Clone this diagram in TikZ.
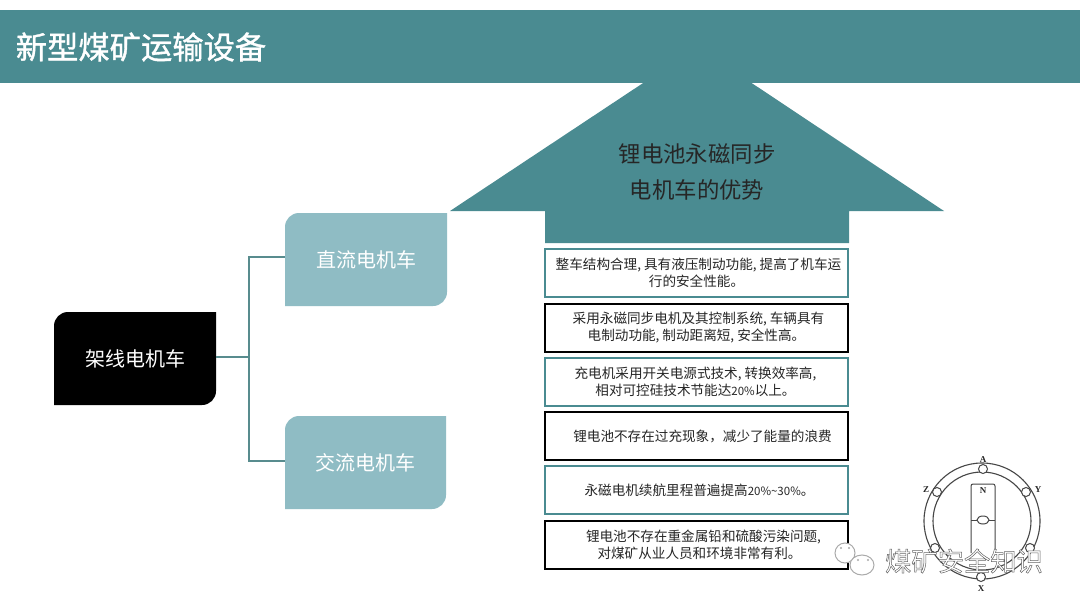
\documentclass[tikz,border=0pt]{standalone}
\usepackage{fontspec}
\usepackage{xcolor}
\usepackage{tikz}
\setmainfont{Noto Sans CJK SC}
\newfontfamily\titlefont[FakeBold=1.2]{Noto Sans CJK SC}
\newfontfamily\motorfont{Liberation Serif}
\definecolor{hlteal}{RGB}{74,139,145}
\definecolor{hlline}{RGB}{88,140,142}
\definecolor{hllight}{RGB}{143,188,196}
\definecolor{hlink}{RGB}{38,38,38}
\definecolor{hlmotor}{RGB}{70,70,70}
\definecolor{hlmark}{RGB}{170,170,170}
\newcommand{\cm}{,\hspace{3pt}}
\newcommand{\nar}[1]{{\fontsize{11.5}{17}\selectfont #1}}
\tikzset{
	bignode/.style={text=white,font=\fontsize{20}{24}\selectfont},
	infobox/.style={draw=hlteal,line width=1.5,fill=white,minimum width=303,minimum height=48,inner sep=0,align=center,text=hlink,font=\fontsize{13.6}{17}\selectfont,execute at begin node=\vspace*{8pt}},
	darkbox/.style={infobox,draw=black,line width=2},
	slot/.style={draw=hlmotor,fill=white,line width=1,circle,minimum size=9,inner sep=0},
	motorlabel/.style={text=hlink,font=\fontsize{9}{10}\motorfont\bfseries\selectfont,inner sep=0},
}

\begin{document}
\begin{tikzpicture}[x=1pt,y=-1pt]
	\useasboundingbox (0,0) rectangle (1080,608);
	\fill[white] (0,0) rectangle (1080,608);

	\coordinate (P) at (450,211);
	\coordinate (Q) at (944,211);
	\coordinate (R) at (697.5,47);

	\fill[hlteal] (P) -- (R) -- (Q) -- (849,211) -- (849,243) -- (545,243) -- (545,211) -- cycle;
	\fill[hlteal] (0,10) rectangle (1080,83);
	\node (title) at (141,47) [text=white,font=\fontsize{31.3}{36}\titlefont] {新型煤矿运输设备};
	\node (arrowtext) at (697,172) [align=center,text=hlink,font=\fontsize{22.4}{36}\selectfont] {锂电池永磁同步\\电机车的优势};

	\fill[black] (54,405) [rounded corners=14] -- (54,312) [sharp corners] -- (216,312) [rounded corners=14] -- (216,405) [sharp corners] -- cycle;
	\fill[hllight] (285,306) [rounded corners=14] -- (285,213) [sharp corners] -- (447,213) [rounded corners=14] -- (447,306) [sharp corners] -- cycle;
	\fill[hllight] (285,509) [rounded corners=14] -- (285,416) [sharp corners] -- (446,416) [rounded corners=14] -- (446,509) [sharp corners] -- cycle;
	\node (root) at (135,358.5) [bignode,minimum width=162,minimum height=93] {架线电机车};
	\node (dc) at (366,259.5) [bignode,minimum width=162,minimum height=93] {直流电机车};
	\node (ac) at (365.5,462.5) [bignode,minimum width=161,minimum height=93] {交流电机车};

	\coordinate (trunk) at (249,357);
	\coordinate (dcin) at (285,257);
	\coordinate (acin) at (285,461);
	\draw[hlline,line width=2.5] (root.east |- trunk) -- (trunk);
	\draw[hlline,line width=2.5] (dcin) -| (trunk) |- (acin);

	\node (boxa) at (696.5,273) [infobox] {\hspace*{4pt}整车结构合理\cm 具有液压制动功能\cm 提高了机车运\\行的安全性能。};
	\node (boxb) at (696.5,328) [darkbox] {\hspace*{4pt}采用永磁同步电机及其控制系统\cm 车辆具有\\电制动功能\cm 制动距离短\cm 安全性高。};
	\node (boxc) at (696.5,382) [infobox] {充电机采用开关电源式技术\cm 转换效率高,\hspace*{2pt}\\相对可控硅技术节能达\nar{20\%}以上。\hspace*{2pt}};
	\node (boxd) at (696.5,436) [darkbox] {\hspace*{12pt}锂电池不存在过充现象，减少了能量的浪费};
	\node (boxe) at (696.5,490) [infobox] {\hspace*{6pt}永磁电机续航里程普遍提高\nar{20\%\textasciitilde30\%}。};
	\node (boxf) at (696.5,545) [darkbox] {\hspace*{14pt}锂电池不存在重金属铅和硫酸污染问题,\\\hspace*{6pt}对煤矿从业人员和环境非常有利。};

	\coordinate (O) at (982,521);
	\draw[hlmotor,line width=1.1] (O) circle (58);
	\draw[hlmotor,line width=1.1] (O) circle (49);
	\draw[hlmotor,line width=1] (971,553) -- (971,488) [rounded corners=2] -- (971,484) -- (995,484) [sharp corners] -- (995,553);
	\draw[hlmotor,line width=0.7] (971,520) -- (995,520);
	\draw[hlmotor,fill=white,line width=1] (983,520) ellipse (6 and 4);
	\node (slota) at (983,469) [slot] {};
	\node (slotx) at (981,577) [slot] {};
	\node (slotz) at (937,492) [slot] {};
	\node (sloty) at (1026,492) [slot] {};
	\node (slotb) at (935,548) [slot] {};
	\node (slotc) at (1030,548) [slot] {};
	\node at (983,460) [motorlabel] {A};
	\node at (981,589) [motorlabel] {X};
	\node at (926,490) [motorlabel] {Z};
	\node at (1038,490) [motorlabel] {Y};
	\node at (983,491) [motorlabel] {N};

	\draw[hlmark,line width=1,fill=white] (845,553) ellipse (10 and 10);
	\fill[hlmark] (841,548) circle (1.2) (849,548) circle (1.2);
	\draw[hlmark,line width=1,fill=white] (862,565) ellipse (12 and 10);
	\fill[hlmark] (858,560) circle (1.2) (868,560) circle (1.2);
	\node (mark) at (964,561) [text=white,font=\fontsize{26.3}{30}\selectfont] {\special{pdf:literal direct 2 Tr 0.5 w 0.4 0.4 0.4 RG}煤矿安全知识};
\end{tikzpicture}
\end{document}
